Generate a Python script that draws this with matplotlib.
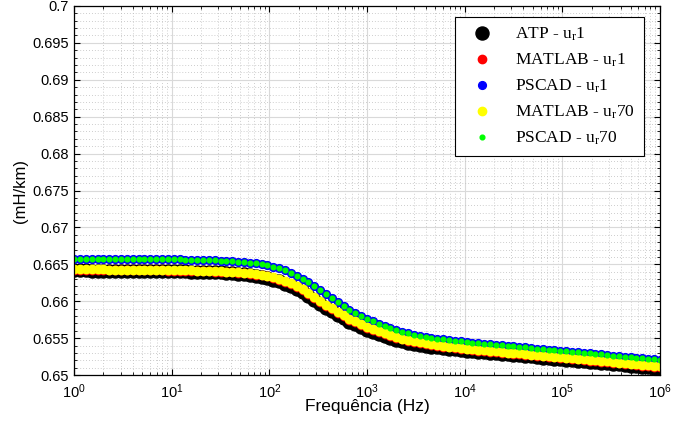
import numpy as np
import matplotlib
matplotlib.use('Agg')
import matplotlib.pyplot as plt
from matplotlib.ticker import MultipleLocator, LogLocator, NullFormatter

# frequency sweep, 1 Hz .. 1 MHz, 101 log-spaced points
freq = np.logspace(0, 6, 101)

# inductance (mH/km)
atp_ur1 = [
    0.66418, 0.66417, 0.66417, 0.66416, 0.66416, 0.66415, 0.66414, 0.66414, 0.66413, 0.66413,
    0.66412, 0.66411, 0.66411, 0.66410, 0.66410, 0.66409, 0.66408, 0.66407, 0.66406, 0.66404,
    0.66402, 0.66400, 0.66398, 0.66396, 0.66393, 0.66390, 0.66385, 0.66379, 0.66373, 0.66364,
    0.66354, 0.66343, 0.66330, 0.66315, 0.66293, 0.66268, 0.66237, 0.66203, 0.66164, 0.66120,
    0.66074, 0.66021, 0.65968, 0.65915, 0.65864, 0.65815, 0.65770, 0.65726, 0.65687, 0.65650,
    0.65614, 0.65583, 0.65552, 0.65524, 0.65500, 0.65477, 0.65458, 0.65440, 0.65424, 0.65410,
    0.65397, 0.65386, 0.65376, 0.65366, 0.65358, 0.65349, 0.65341, 0.65333, 0.65325, 0.65317,
    0.65309, 0.65302, 0.65295, 0.65287, 0.65280, 0.65274, 0.65267, 0.65260, 0.65253, 0.65245,
    0.65238, 0.65231, 0.65224, 0.65217, 0.65210, 0.65203, 0.65196, 0.65189, 0.65181, 0.65174,
    0.65166, 0.65159, 0.65151, 0.65144, 0.65136, 0.65129, 0.65121, 0.65114, 0.65106, 0.65099,
    0.65091]

matlab_ur1 = [
    0.66426, 0.66425, 0.66425, 0.66424, 0.66424, 0.66423, 0.66422, 0.66422, 0.66421, 0.66421,
    0.66420, 0.66419, 0.66419, 0.66418, 0.66418, 0.66417, 0.66416, 0.66415, 0.66414, 0.66412,
    0.66410, 0.66408, 0.66406, 0.66404, 0.66401, 0.66398, 0.66395, 0.66391, 0.66386, 0.66379,
    0.66371, 0.66361, 0.66350, 0.66337, 0.66316, 0.66292, 0.66261, 0.66229, 0.66190, 0.66146,
    0.66100, 0.66047, 0.65994, 0.65941, 0.65890, 0.65841, 0.65796, 0.65752, 0.65713, 0.65676,
    0.65640, 0.65609, 0.65578, 0.65550, 0.65526, 0.65503, 0.65484, 0.65466, 0.65449, 0.65434,
    0.65420, 0.65408, 0.65397, 0.65386, 0.65377, 0.65367, 0.65358, 0.65349, 0.65341, 0.65333,
    0.65325, 0.65318, 0.65311, 0.65303, 0.65296, 0.65290, 0.65283, 0.65276, 0.65269, 0.65261,
    0.65254, 0.65247, 0.65240, 0.65233, 0.65226, 0.65219, 0.65212, 0.65205, 0.65197, 0.65190,
    0.65182, 0.65175, 0.65167, 0.65160, 0.65152, 0.65145, 0.65137, 0.65130, 0.65122, 0.65115,
    0.65107]

pscad_ur1 = [
    0.66578, 0.66577, 0.66577, 0.66576, 0.66576, 0.66575, 0.66574, 0.66574, 0.66573, 0.66573,
    0.66572, 0.66571, 0.66571, 0.66570, 0.66570, 0.66569, 0.66568, 0.66567, 0.66566, 0.66564,
    0.66562, 0.66560, 0.66558, 0.66556, 0.66553, 0.66550, 0.66547, 0.66543, 0.66538, 0.66531,
    0.66523, 0.66513, 0.66502, 0.66489, 0.66470, 0.66448, 0.66419, 0.66387, 0.66348, 0.66304,
    0.66258, 0.66205, 0.66151, 0.66094, 0.66039, 0.65985, 0.65935, 0.65887, 0.65843, 0.65802,
    0.65762, 0.65727, 0.65693, 0.65662, 0.65634, 0.65608, 0.65586, 0.65566, 0.65548, 0.65532,
    0.65518, 0.65506, 0.65495, 0.65484, 0.65475, 0.65465, 0.65456, 0.65447, 0.65439, 0.65431,
    0.65423, 0.65416, 0.65409, 0.65401, 0.65394, 0.65388, 0.65381, 0.65374, 0.65367, 0.65359,
    0.65352, 0.65345, 0.65338, 0.65331, 0.65324, 0.65317, 0.65310, 0.65303, 0.65295, 0.65288,
    0.65280, 0.65273, 0.65265, 0.65258, 0.65250, 0.65243, 0.65235, 0.65228, 0.65220, 0.65213,
    0.65205]

matlab_ur70 = [
    0.66434, 0.66433, 0.66433, 0.66432, 0.66432, 0.66431, 0.66430, 0.66430, 0.66429, 0.66429,
    0.66428, 0.66427, 0.66427, 0.66426, 0.66426, 0.66425, 0.66424, 0.66423, 0.66422, 0.66420,
    0.66418, 0.66416, 0.66414, 0.66412, 0.66409, 0.66406, 0.66403, 0.66399, 0.66394, 0.66387,
    0.66379, 0.66369, 0.66358, 0.66345, 0.66326, 0.66304, 0.66275, 0.66243, 0.66204, 0.66160,
    0.66114, 0.66061, 0.66008, 0.65955, 0.65904, 0.65855, 0.65810, 0.65766, 0.65727, 0.65690,
    0.65654, 0.65623, 0.65592, 0.65564, 0.65539, 0.65515, 0.65495, 0.65476, 0.65459, 0.65444,
    0.65430, 0.65418, 0.65407, 0.65396, 0.65387, 0.65377, 0.65368, 0.65359, 0.65351, 0.65343,
    0.65335, 0.65328, 0.65321, 0.65313, 0.65306, 0.65300, 0.65293, 0.65286, 0.65279, 0.65271,
    0.65264, 0.65257, 0.65250, 0.65243, 0.65236, 0.65229, 0.65222, 0.65215, 0.65207, 0.65200,
    0.65192, 0.65185, 0.65177, 0.65170, 0.65162, 0.65155, 0.65147, 0.65140, 0.65132, 0.65125,
    0.65117]

# PSCAD u_r 70 lies exactly on top of PSCAD u_r 1
pscad_ur70 = list(pscad_ur1)

plt.rcParams['font.family'] = ['Liberation Sans', 'DejaVu Sans']
plt.rcParams['mathtext.fontset'] = 'custom'
plt.rcParams['mathtext.rm'] = 'Liberation Serif'
plt.rcParams['mathtext.it'] = 'Liberation Serif:italic'

fig = plt.figure(figsize=(6.86, 4.21), dpi=100)
ax = fig.add_axes([0.108, 0.109, 0.854, 0.877])

ax.plot(freq, atp_ur1, 'o', ms=9.4, color='black', mec='black', label=r'ATP - u$_\mathrm{r}$1')
ax.plot(freq, matlab_ur1, 'o', ms=6.0, color='#ff0000', mec='#ff0000', label=r'MATLAB - u$_\mathrm{r}$1')
ax.plot(freq, pscad_ur1, 'o', ms=5.6, color='#0000ff', mec='#0000ff', label=r'PSCAD - u$_\mathrm{r}$1')
ax.plot(freq, matlab_ur70, 'o', ms=6.0, color='#ffff00', mec='#ffff00', label=r'MATLAB - u$_\mathrm{r}$70')
ax.plot(freq, pscad_ur70, 'o', ms=3.4, color='#00ff00', mec='#00ff00', label=r'PSCAD - u$_\mathrm{r}$70')

ax.set_xscale('log')
ax.set_xlim(1, 1e6)
ax.set_ylim(0.65, 0.70)
ax.yaxis.set_major_locator(MultipleLocator(0.005))
ax.yaxis.set_minor_locator(MultipleLocator(0.001))
ax.xaxis.set_minor_locator(LogLocator(base=10, subs=np.arange(2, 10), numticks=20))
ax.xaxis.set_minor_formatter(NullFormatter())
ax.set_yticks(np.arange(0.65, 0.7001, 0.005))
ax.set_yticklabels(['0.65', '0.655', '0.66', '0.665', '0.67', '0.675', '0.68',
                    '0.685', '0.69', '0.695', '0.7'])

ax.grid(which='major', color='#d9d9d9', linewidth=0.8, linestyle='-')
ax.grid(which='minor', color='#bdbdbd', linewidth=0.6, linestyle=(0, (1, 2.5)))
ax.set_axisbelow(True)

ax.tick_params(which='both', direction='in', top=True, right=True, labelsize=10.5, colors='black')
ax.tick_params(which='major', length=4)
ax.tick_params(which='minor', length=2)
ax.tick_params(axis='x', which='major', pad=5)
for s in ax.spines.values():
    s.set_linewidth(0.9)

ax.set_xlabel('Frequência (Hz)', fontsize=12.5, labelpad=-1)
ax.set_ylabel('(mH/km)', fontsize=12, labelpad=3)

leg = ax.legend(loc='upper right', bbox_to_anchor=(0.9727, 0.970), fancybox=False, framealpha=1,
                edgecolor='black', borderpad=0.5, labelspacing=0.5, handletextpad=0.8,
                borderaxespad=0, handlelength=2.2,
                prop={'family': 'Liberation Serif', 'size': 12.5})
leg.get_frame().set_linewidth(0.8)

fig.savefig('out.png', dpi=100)
